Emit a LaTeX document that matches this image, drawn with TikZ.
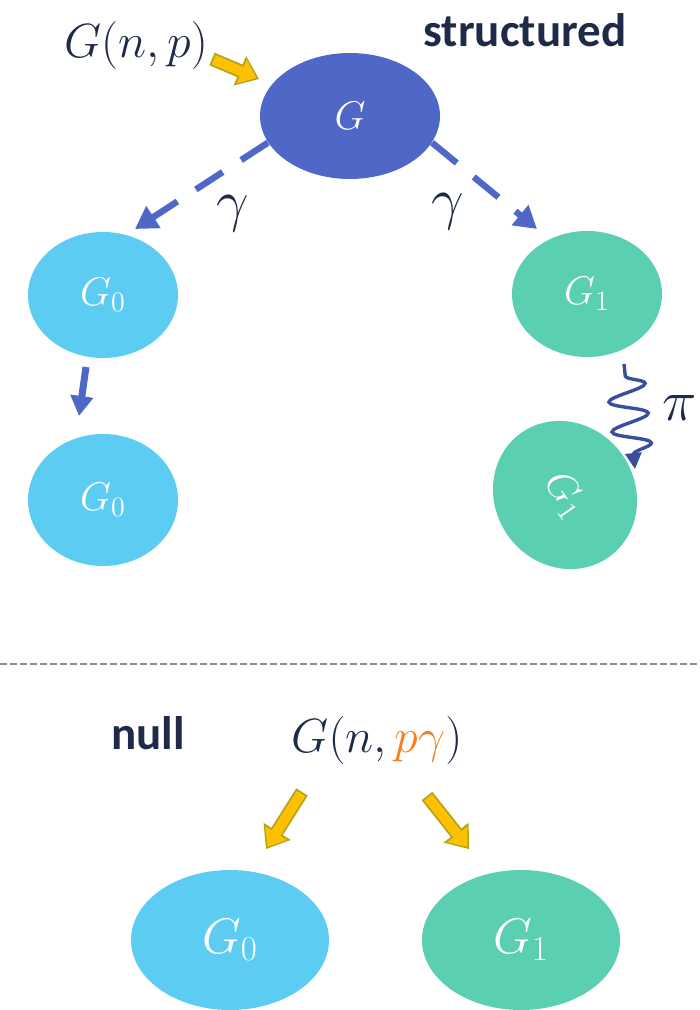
\RequirePackage{fix-cm}
\documentclass[tikz,border=0pt]{standalone}
\usepackage{fontspec}
\setmainfont{Carlito}
\usetikzlibrary{arrows.meta,positioning,shapes.geometric,decorations.pathmorphing}
\definecolor{navy}{HTML}{1F2A48}
\definecolor{gblue}{HTML}{4F68C8}
\definecolor{gzero}{HTML}{5DCCF3}
\definecolor{gone}{HTML}{5BCFB1}
\definecolor{wavyblue}{HTML}{3A4E9E}
\definecolor{porange}{HTML}{F58220}
\definecolor{gold}{HTML}{FFC000}
\definecolor{goldedge}{HTML}{B3A31C}
\definecolor{divgray}{HTML}{8C8C8C}
\tikzset{
  graphnode/.style={ellipse, draw=none, text=white, inner sep=0pt, font=\fontsize{20}{24}\selectfont},
  bluenode/.style={graphnode, fill=gblue, minimum width=90pt, minimum height=63pt},
  zeronode/.style={graphnode, fill=gzero, minimum width=75pt, minimum height=63pt},
  onenode/.style={graphnode, fill=gone, minimum width=75pt, minimum height=63pt},
  heading/.style={text=navy, font=\bfseries\fontsize{23.5}{28}\selectfont},
  mathlabel/.style={text=navy, inner sep=0pt, font=\fontsize{24}{28}\selectfont},
  greeklabel/.style={text=navy, inner sep=0pt, font=\fontsize{29}{33}\selectfont},
  dasharrow/.style={draw=gblue, line width=3.2pt, dash pattern=on 16pt off 11pt, -{Triangle[length=11pt,width=12.5pt]}},
  solidarrow/.style={draw=gblue, line width=3.5pt, -{Triangle[length=10pt,width=11pt]}},
  fatarrow/.style={draw=gold, line width=5pt, shorten >=1.4pt, shorten <=0.9pt,
    -{Triangle[length=8pt,width=13pt,line width=0pt]},
    preaction={draw=goldedge, line width=6.8pt, shorten >=0pt, shorten <=0pt,
      -{Triangle[length=10.4pt,width=16pt,line width=0pt]}}},
  wavyarrow/.style={draw=wavyblue, line width=1.7pt, decorate,
    decoration={snake, amplitude=9.5pt, segment length=15pt, pre length=6pt, post length=7pt},
    -{Triangle[length=8pt,width=8pt]}},
  divider/.style={draw=divgray, line width=0.8pt, dash pattern=on 3.5pt off 1.5pt}
}
\begin{document}
\begin{tikzpicture}[x=0.5pt, y=-0.5pt]
  \useasboundingbox (0,0) rectangle (700,1010);

  % structured model
  \node[heading] (structured) at (525,30) {structured};
  \node[mathlabel] (gnp) at (136,46) {$G(n,p)$};
  \node[bluenode] (g) at (350,116) {$G$};
  \node[zeronode] (g0top) at (103,295) {$G_0$};
  \node[onenode] (g1top) at (587,294) {$G_1$};
  \node[zeronode, minimum height=66pt] (g0mid) at (103,500) {$G_0$};
  \node[onenode, minimum width=76pt, minimum height=70pt, rotate=-55] (g1mid) at (565,495) {$G_1$};
  \node[greeklabel] (gammaleft) at (233,214) {$\gamma$};
  \node[greeklabel] (gammaright) at (448,212) {$\gamma$};
  \node[greeklabel] (pilabel) at (680,408) {$\pi$};

  % free arrow ends
  \coordinate (gnpout) at (212,59);
  \coordinate (ginto) at (259,79);
  \coordinate (leftend) at (135,229);
  \coordinate (rightend) at (537,229);
  \coordinate (keepstart) at (86,367);
  \coordinate (keepend) at (79,416);
  \coordinate (permstart) at (624,364);
  \coordinate (permend) at (635,469);

  \draw[fatarrow] (gnpout) -- (ginto);
  \draw[dasharrow] (g.198) -- (leftend);
  \draw[dasharrow] (g.-18) -- (rightend);
  \draw[solidarrow] (keepstart) -- (keepend);
  \draw[wavyarrow] (permstart) -- (permend);

  % separator
  \coordinate (divleft) at (0,664);
  \coordinate (divright) at (700,664);
  \draw[divider] (divleft) -- (divright);

  % null model
  \node[heading] (null) at (148,733) {null};
  \node[mathlabel] (gnpg) at (377,740) {$G(n,\textcolor{porange}{p\gamma})$};
  \node[zeronode, minimum width=99pt, minimum height=70pt, font=\fontsize{25}{29}\selectfont] (g0bot) at (230,940) {$G_0$};
  \node[onenode, minimum width=99pt, minimum height=70pt, font=\fontsize{25}{29}\selectfont] (g1bot) at (521,940) {$G_1$};

  \coordinate (nullleftstart) at (302,792);
  \coordinate (nullleftend) at (266,849);
  \coordinate (nullrightstart) at (427,796);
  \coordinate (nullrightend) at (469,849);
  \draw[fatarrow] (nullleftstart) -- (nullleftend);
  \draw[fatarrow] (nullrightstart) -- (nullrightend);
\end{tikzpicture}
\end{document}
